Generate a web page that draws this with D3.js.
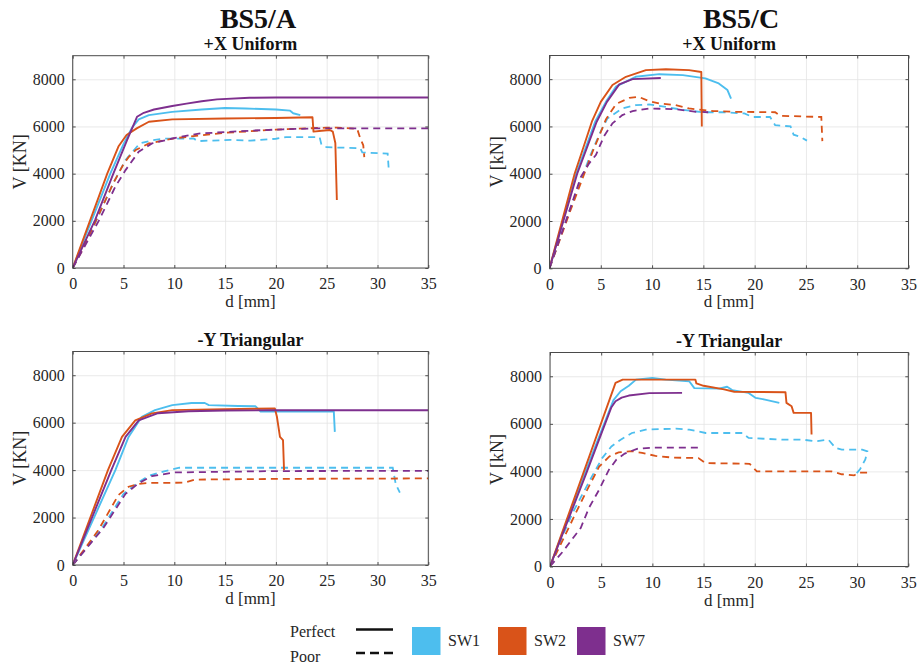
<!DOCTYPE html>
<html><head><meta charset="utf-8">
<script src="https://cdn.jsdelivr.net/npm/d3@7"></script>
<style>
body{margin:0;background:#fff}
svg{display:block}
text{font-family:"Liberation Serif","Times New Roman",serif}
</style>
</head><body><svg id="c" width="924" height="666"></svg>
<script>
// ---------- data ----------
const xTicks = [0,5,10,15,20,25,30,35];
const yTicks = [0,2000,4000,6000,8000];
const xDomain = [0,35];
const yDomain = [0,9000];
const seriesNames = ["SW1","SW2","SW7"];
const seriesColors = ["#4DBEEE","#D95319","#7E2F8E"];
const conditionNames = ["Perfect","Poor"];
const groupTitles = ["BS5/A","BS5/C"];
const panelTitles = ["+X Uniform","+X Uniform","-Y Triangular","-Y Triangular"];
const yLabels = ["V [KN]","V [kN]","V [KN]","V [kN]"];
const xLabel = "d [mm]";

// BS5/A  +X Uniform
const A_UX_SW1_perfect = [[0,0],[3.7,4000],[5.0,5250],[5.84,5950],[6.5,6300],[7.5,6480],[9.8,6620],[12.7,6720],[15,6780],[17,6760],[20,6720],[21.4,6670],[21.7,6560],[22.4,6480]];
const A_UX_SW2_perfect = [[0,0],[3.4,4000],[4.5,5150],[5.3,5640],[6.3,5920],[7.5,6200],[9.8,6300],[15,6340],[20,6360],[23.6,6390],[23.7,5780],[24.5,5820],[25.3,5850],[25.6,5780],[25.85,5300],[26.0,2880]];
const A_UX_SW7_perfect = [[0,0],[2.2,2030],[4.0,4000],[5.35,5420],[6.33,6410],[7.0,6580],[8.0,6720],[9.8,6870],[11.2,6970],[12.7,7070],[14.2,7150],[17.4,7215],[20,7230],[35,7230]];
const A_UX_SW1_poor = [[0,0],[2.3,2000],[4.0,3600],[5.2,4580],[6.6,5280],[7.9,5420],[9,5480],[11.9,5490],[12.3,5380],[13.5,5400],[15.5,5430],[17.5,5400],[20,5480],[21,5550],[24.3,5550],[24.5,5200],[25,5120],[28.3,5080],[28.5,4900],[31,4850],[31.1,4220]];
const A_UX_SW2_poor = [[0,0],[1,800],[2.5,2200],[4,3600],[5.0,4400],[5.5,4700],[6.2,5000],[7.5,5280],[10,5500],[15,5730],[20,5870],[25,5950],[26,5950],[28,5900],[28.3,5500],[28.6,5200],[28.7,4700]];
const A_UX_SW7_poor = [[0,0],[2.56,2000],[4.2,3450],[5.2,4150],[6.5,4930],[7.8,5280],[9.8,5490],[12.4,5700],[17.4,5820],[20.7,5880],[24,5920],[35,5920]];

// BS5/C  +X Uniform
const C_UX_SW1_perfect = [[0,0],[2.6,4000],[4.45,6200],[5.5,7040],[6.47,7680],[8.4,8100],[10.7,8210],[13,8170],[15.2,8030],[16.5,7820],[17.35,7540],[17.7,7180]];
const C_UX_SW2_perfect = [[0,0],[2.45,4000],[3.06,4790],[4.13,6200],[5.0,7040],[6.14,7750],[7.45,8100],[9.4,8380],[11.35,8420],[13.6,8380],[14.8,8300],[14.85,6000]];
const C_UX_SW7_perfect = [[0,0],[2.7,4000],[4.6,6200],[5.6,7040],[6.8,7780],[8.1,8000],[10.85,8050]];
const C_UX_SW1_poor = [[0,0],[2.0,2500],[4.0,4800],[5.0,5800],[5.65,6340],[7.1,6760],[8.4,6900],[9.7,6930],[11,6850],[13,6700],[15,6600],[17,6600],[19,6550],[19.8,6400],[21.5,6400],[22,6050],[23.5,6000],[23.8,5650],[24.5,5550],[25.1,5400]];
const C_UX_SW2_poor = [[0,0],[2.0,2400],[4.2,4930],[4.85,5600],[5.5,6300],[6.5,6950],[7.8,7210],[8.7,7250],[9.7,7070],[10.7,6970],[12.3,6900],[13.6,6760],[16,6650],[18,6620],[22,6600],[22.5,6450],[26.5,6400],[26.6,5380]];
const C_UX_SW7_poor = [[0,0],[1.6,2000],[3.06,3870],[3.87,4440],[4.52,4790],[5.33,5600],[6.14,6130],[7.1,6480],[8.1,6650],[9.7,6760],[12.3,6730],[14.3,6620],[15.5,6600]];

// BS5/A  -Y Triangular
const A_TY_SW1_perfect = [[0,0],[4.2,4000],[5.5,5400],[6.8,6250],[8.1,6530],[9.8,6740],[11.7,6830],[13,6830],[13.4,6740],[16.3,6700],[18,6690],[18.5,6470],[25.7,6470],[25.8,5610]];
const A_TY_SW2_perfect = [[0,0],[3.47,4000],[4.85,5400],[6.16,6100],[7.8,6390],[9.8,6530],[15,6570],[19.9,6600],[20.1,6250],[20.4,5400],[20.7,5260],[20.8,4000]];
const A_TY_SW7_perfect = [[0,0],[3.8,4000],[5.2,5400],[6.5,6100],[8.4,6400],[11.4,6480],[15,6510],[20,6526],[35,6526]];
const A_TY_SW1_poor = [[0,0],[2.8,1500],[5,3000],[6.5,3500],[7.5,3760],[9,3950],[10.5,4100],[20,4100],[31.5,4100],[31.8,3400],[32.2,3050]];
const A_TY_SW2_poor = [[0,0],[2.5,1450],[4.5,2950],[5.5,3300],[6.5,3420],[7.5,3460],[11,3470],[12,3600],[20,3630],[35,3650]];
const A_TY_SW7_poor = [[0,0],[3,1550],[5.2,3000],[6.5,3450],[7.8,3750],[10,3900],[20,3960],[35,3970]];

// BS5/C  -Y Triangular
const C_TY_SW1_perfect = [[0,0],[3.4,3930],[6.2,7000],[6.9,7370],[7.7,7600],[8.4,7860],[10,7930],[11.3,7860],[13.6,7790],[14.1,7500],[16.5,7480],[17.3,7560],[17.8,7420],[19.4,7300],[20.1,7090],[21,7020],[22.4,6880]];
const C_TY_SW2_perfect = [[0,0],[6.4,7720],[7.1,7860],[14.2,7860],[14.3,7700],[15,7600],[17,7450],[18,7350],[23,7330],[23.1,6880],[23.6,6740],[23.8,6460],[25.5,6460],[25.55,5550]];
const C_TY_SW7_perfect = [[0,0],[3.55,3930],[6.0,6700],[6.4,6950],[7.0,7100],[7.7,7190],[9.7,7290],[12.9,7300]];
const C_TY_SW1_poor = [[0,0],[1.2,1260],[2.2,2250],[3.15,3020],[4.1,3790],[5.1,4560],[6.0,5050],[6.9,5330],[8.0,5615],[9.35,5755],[12.3,5800],[13.6,5755],[15.2,5615],[17.2,5615],[18.8,5615],[19.4,5405],[22.7,5334],[24.7,5334],[25.9,5264],[27.2,5334],[27.9,4983],[28.5,4913],[30.5,4913],[31.0,4843],[30.8,4500],[30.3,4100],[29.9,3900]];
const C_TY_SW2_poor = [[0,0],[2.8,2500],[3.8,3370],[4.8,4200],[5.8,4630],[6.7,4800],[8.0,4850],[9.0,4780],[10.3,4650],[12,4580],[14.5,4560],[15.2,4350],[19.5,4320],[20.2,4000],[27.5,4000],[28.5,3880],[29.7,3830],[30.2,3950],[31,3950]];
const C_TY_SW7_poor = [[0,0],[1.2,600],[3.0,1620],[3.8,2460],[4.8,3230],[5.76,4070],[6.5,4500],[7.3,4750],[8.5,4950],[10,5000],[14.65,5000]];

const panelData = [
  {perfect:[A_UX_SW1_perfect,A_UX_SW2_perfect,A_UX_SW7_perfect], poor:[A_UX_SW1_poor,A_UX_SW2_poor,A_UX_SW7_poor]},
  {perfect:[C_UX_SW1_perfect,C_UX_SW2_perfect,C_UX_SW7_perfect], poor:[C_UX_SW1_poor,C_UX_SW2_poor,C_UX_SW7_poor]},
  {perfect:[A_TY_SW1_perfect,A_TY_SW2_perfect,A_TY_SW7_perfect], poor:[A_TY_SW1_poor,A_TY_SW2_poor,A_TY_SW7_poor]},
  {perfect:[C_TY_SW1_perfect,C_TY_SW2_perfect,C_TY_SW7_perfect], poor:[C_TY_SW1_poor,C_TY_SW2_poor,C_TY_SW7_poor]}
];

// ---------- layout ----------
const layout = [
  {left:72.7, top:55.7, w:355.6, h:212.3, ylab:20},
  {left:549.5, top:55.5, w:359, h:212.8, ylab:497},
  {left:72.7, top:351.5, w:355.6, h:213.5, ylab:20},
  {left:550, top:352.5, w:358.3, h:214, ylab:497}
];
const svg = d3.select("#c");
const ink = "#262626";

layout.forEach((L, i) => {
  const g = svg.append("g").attr("transform", `translate(${L.left},${L.top})`);
  const x = d3.scaleLinear().domain(xDomain).range([0, L.w]);
  const y = d3.scaleLinear().domain(yDomain).range([L.h, 0]);

  // grid
  g.append("g").attr("transform",`translate(0,${L.h})`)
    .call(d3.axisBottom(x).tickValues(xTicks).tickSize(-L.h).tickFormat(""))
    .call(s => { s.select(".domain").remove(); s.selectAll("line").attr("stroke","#e3e3e3").attr("stroke-width",0.8); });
  g.append("g")
    .call(d3.axisLeft(y).tickValues(yTicks).tickSize(-L.w).tickFormat(""))
    .call(s => { s.select(".domain").remove(); s.selectAll("line").attr("stroke","#e3e3e3").attr("stroke-width",0.8); });

  // clip
  const cid = "clip"+i;
  g.append("clipPath").attr("id",cid).append("rect").attr("width",L.w).attr("height",L.h);
  const plot = g.append("g").attr("clip-path",`url(#${cid})`);
  const line = d3.line().x(d => x(d[0])).y(d => y(d[1]));

  const P = panelData[i];
  P.poor.forEach((arr, k) => {
    plot.append("path").datum(arr).attr("d", line).attr("fill","none")
      .attr("stroke", seriesColors[k]).attr("stroke-width",1.8).attr("stroke-dasharray","7,5");
  });
  P.perfect.forEach((arr, k) => {
    plot.append("path").datum(arr).attr("d", line).attr("fill","none")
      .attr("stroke", seriesColors[k]).attr("stroke-width",1.9).attr("stroke-linejoin","round");
  });

  // axes with inward ticks
  const styleAxis = s => {
    s.select(".domain").remove();
    s.selectAll("line").attr("stroke", ink).attr("stroke-width",0.8);
    s.selectAll("text").attr("font-family","Liberation Serif, Times New Roman, serif").attr("font-size",16).attr("fill",ink);
  };
  g.append("g").attr("transform",`translate(0,${L.h})`)
    .call(d3.axisBottom(x).tickValues(xTicks).tickSize(-3).tickPadding(10).tickFormat(d3.format("d")))
    .call(styleAxis);
  g.append("g")
    .call(d3.axisLeft(y).tickValues(yTicks).tickSize(-3).tickPadding(8).tickFormat(d3.format("d")))
    .call(styleAxis);
  g.append("g")
    .call(d3.axisTop(x).tickValues(xTicks).tickSize(-3).tickFormat(""))
    .call(styleAxis);
  g.append("g").attr("transform",`translate(${L.w},0)`)
    .call(d3.axisRight(y).tickValues(yTicks).tickSize(-3).tickFormat(""))
    .call(styleAxis);
  g.append("rect").attr("width",L.w).attr("height",L.h).attr("fill","none")
    .attr("stroke","#4a4a4a").attr("stroke-width",1);

  // labels
  g.append("text").attr("x", L.w/2).attr("y", L.h + 39).attr("text-anchor","middle")
    .attr("font-size",17).attr("fill",ink).text(xLabel);
  g.append("text").attr("transform",`translate(${L.ylab - L.left},${L.h/2}) rotate(-90)`)
    .attr("text-anchor","middle").attr("dy","0.35em")
    .attr("font-size",18).attr("fill",ink).text(yLabels[i]);
  g.append("text").attr("x", L.w/2).attr("y", -5.5).attr("text-anchor","middle")
    .attr("font-size",18).attr("font-weight","bold").attr("fill","#111").text(panelTitles[i]);
});

// column titles
svg.append("text").attr("x",258).attr("y",28).attr("text-anchor","middle")
  .attr("font-size",28).attr("font-weight","bold").attr("fill","#111").text(groupTitles[0]);
svg.append("text").attr("x",741).attr("y",27.5).attr("text-anchor","middle")
  .attr("font-size",28).attr("font-weight","bold").attr("fill","#111").text(groupTitles[1]);

// legend
const lg = svg.append("g");
lg.append("text").attr("x",290).attr("y",637).attr("font-size",16).attr("fill",ink).text(conditionNames[0]);
lg.append("text").attr("x",290).attr("y",662).attr("font-size",16).attr("fill",ink).text(conditionNames[1]);
lg.append("line").attr("x1",356).attr("x2",393).attr("y1",629.5).attr("y2",629.5).attr("stroke","#111").attr("stroke-width",2.4);
lg.append("line").attr("x1",356).attr("x2",393).attr("y1",653).attr("y2",653).attr("stroke","#111").attr("stroke-width",2.4).attr("stroke-dasharray","9,5");
const swX = [412, 498, 577];
seriesNames.forEach((n, k) => {
  lg.append("rect").attr("x",swX[k]).attr("y",627).attr("width",28.5).attr("height",28).attr("fill",seriesColors[k]);
  lg.append("text").attr("x",swX[k]+36).attr("y",646).attr("font-size",16).attr("fill",ink).text(n);
});
</script></body></html>
